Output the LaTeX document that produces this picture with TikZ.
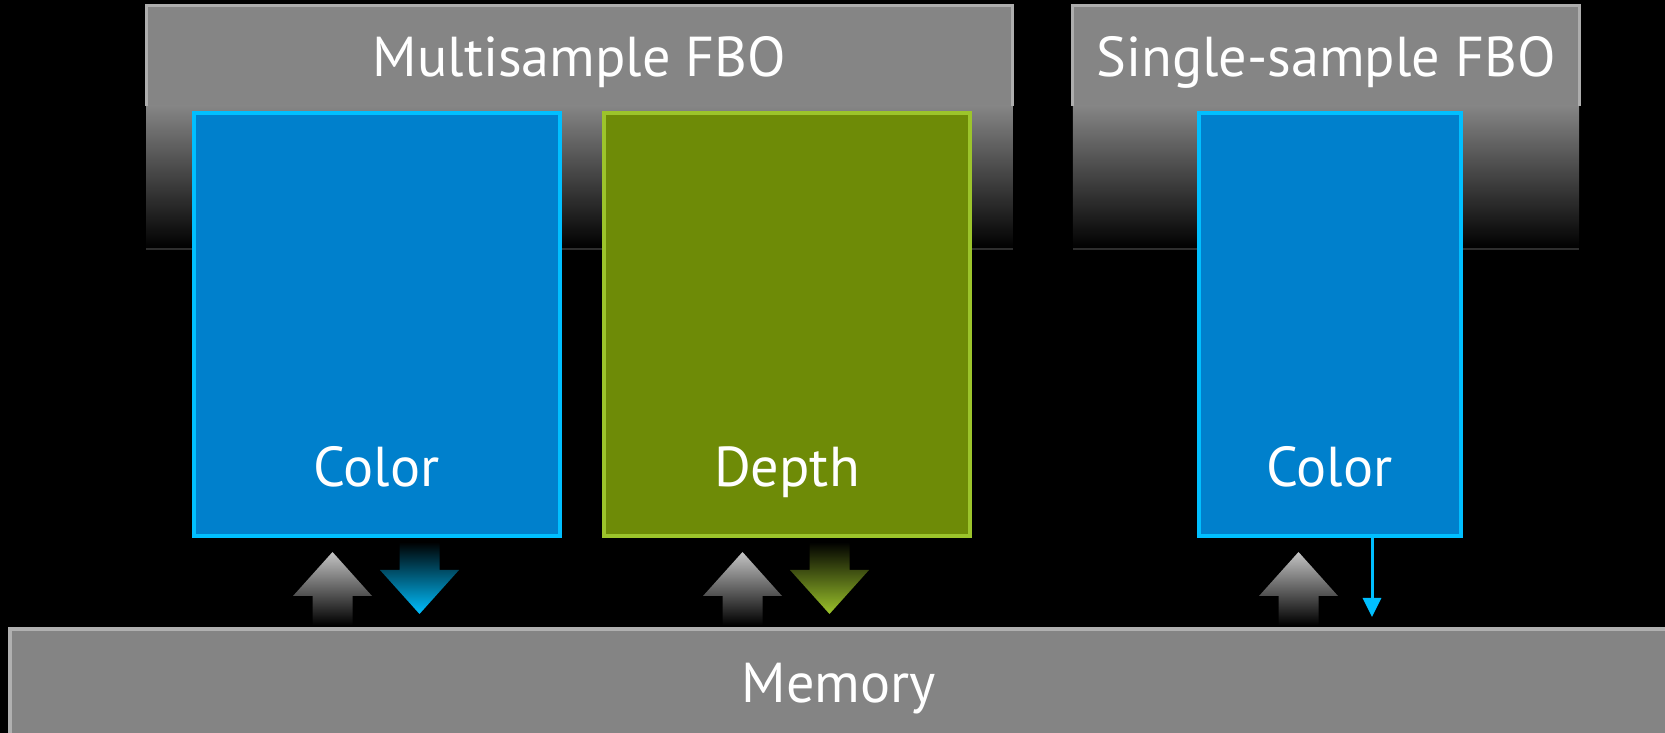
\documentclass[tikz,border=0pt]{standalone}
\usepackage{fontspec}
\setmainfont{PT Sans}
\usepackage{xcolor}
\usepackage{tikz}
\usetikzlibrary{arrows.meta}

\definecolor{hdrgray}{HTML}{858585}
\definecolor{hdrline}{HTML}{ADADAD}
\definecolor{hdredge}{HTML}{2E2E2E}
\definecolor{memgray}{HTML}{848484}
\definecolor{memline}{HTML}{B0B0B0}
\definecolor{colorfill}{HTML}{0080CC}
\definecolor{colorline}{HTML}{00BFFF}
\definecolor{depthfill}{HTML}{6E8B07}
\definecolor{depthline}{HTML}{9CC42B}
\definecolor{arrowgray}{HTML}{C4C4C4}

\tikzset{
    txt/.style={text=white, font=\fontsize{16pt}{19pt}\selectfont, inner sep=0pt},
    fbo/.style={fill=hdrgray, inner sep=0pt, minimum height=2.43cm},
    buf/.style={line width=0.04cm, minimum height=4.225cm, inner sep=0pt},
    colorbuf/.style={buf, draw=colorline, fill=colorfill},
    depthbuf/.style={buf, draw=depthline, fill=depthfill},
    pics/uparrow/.style={code={
        \shade[top color=arrowgray, bottom color=black]
            (-0.2,0) -- (-0.2,0.29) -- (-0.395,0.29) -- (0,0.73) -- (0.395,0.29) -- (0.2,0.29) -- (0.2,0) -- cycle;
    }},
    pics/downarrow/.style={code={
        \shade[top color=black, bottom color=#1]
            (-0.2,0) -- (-0.2,-0.28) -- (-0.395,-0.28) -- (0,-0.72) -- (0.395,-0.28) -- (0.2,-0.28) -- (0.2,0) -- cycle;
    }},
    thinarr/.style={draw=colorline, line width=0.03cm, -{Triangle[length=1.9mm,width=1.8mm]}}
}

\begin{document}
\begin{tikzpicture}
    \fill[black] (0,0) rectangle (16.65,7.33);
    \useasboundingbox (0,0) rectangle (16.65,7.33);
    \clip (0,0) rectangle (16.65,7.33);

    % framebuffers
    \node[fbo, minimum width=8.65cm] (msFBO) at (5.795,6.065) {};
    \node[fbo, minimum width=5.05cm] (ssFBO) at (13.26,6.065) {};
    \foreach \f in {msFBO, ssFBO} {
        \shade[top color=hdrgray, bottom color=black] (\f.south west) rectangle ([yshift=1.43cm]\f.south east);
        \draw[hdrline, line width=0.03cm] ([yshift=1.43cm]\f.south west) -- ([yshift=-0.015cm]\f.north west) -- ([yshift=-0.015cm]\f.north east) -- ([yshift=1.43cm]\f.south east);
        \draw[hdredge, line width=0.02cm] (\f.south west) -- (\f.south east);
    }
    \node[txt, anchor=base] (msTitle) at ([yshift=-0.72cm]msFBO.north) {Multisample FBO};
    \node[txt, anchor=base] (ssTitle) at ([yshift=-0.72cm]ssFBO.north) {Single-sample FBO};

    % attachments
    \node[colorbuf, minimum width=3.66cm] (msColor) at (3.765,4.0825) {};
    \node[depthbuf, minimum width=3.66cm] (msDepth) at (7.87,4.0825) {};
    \node[colorbuf, minimum width=2.62cm] (ssColor) at (13.295,4.0825) {};
    \node[txt, anchor=base] (msColorTxt) at ([yshift=0.51cm]msColor.south) {Color};
    \node[txt, anchor=base] (msDepthTxt) at ([yshift=0.51cm]msDepth.south) {Depth};
    \node[txt, anchor=base] (ssColorTxt) at ([yshift=0.51cm]ssColor.south) {Color};

    % memory
    \node[draw=memline, fill=memgray, line width=0.04cm, minimum width=16.9cm, minimum height=1.4cm] (mem) at (8.55,0.335) {};
    \node[txt, anchor=base] (memTxt) at (8.39,0.31) {Memory};

    % loads and stores
    \pic at ([xshift=-0.44cm,yshift=-0.87cm]msColor.south) {uparrow};
    \pic at ([xshift=0.43cm,yshift=-0.04cm]msColor.south) {downarrow=colorline};
    \pic at ([xshift=-0.445cm,yshift=-0.87cm]msDepth.south) {uparrow};
    \pic at ([xshift=0.425cm,yshift=-0.04cm]msDepth.south) {downarrow=depthline};
    \pic at ([xshift=-0.31cm,yshift=-0.87cm]ssColor.south) {uparrow};
    \coordinate (ssTip) at ([xshift=0.425cm,yshift=-0.79cm]ssColor.south);
    \draw[thinarr] ([xshift=0.425cm]ssColor.south) -- (ssTip);
\end{tikzpicture}
\end{document}
